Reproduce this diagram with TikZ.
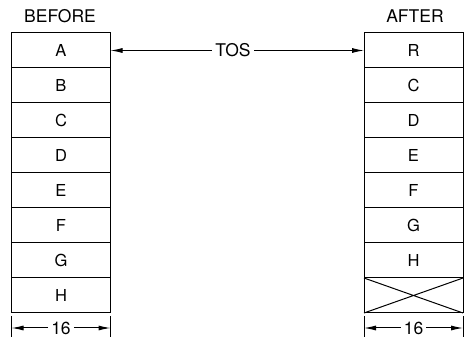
\documentclass[tikz,border=0pt]{standalone}
\usepackage{fontspec}
\setmainfont{TeX Gyre Heros}
\usetikzlibrary{arrows.meta,positioning}

\begin{document}
\begin{tikzpicture}[x=1pt,y=-1pt,
  cellbox/.style={draw,line width=1pt,outer sep=0pt,inner sep=0pt,
    minimum width=99pt,minimum height=35pt,font=\fontsize{16.5}{16.5}\selectfont},
  labeltext/.style={font=\fontsize{17.5}{17.5}\selectfont},
  widthtext/.style={labeltext,inner xsep=3pt,inner ysep=0.5pt},
  dimarrow/.style={line width=1pt,-{Latex[length=12pt,width=5pt]}}]
  \useasboundingbox (0,0) rectangle (467,337);

  % Headings
  \node[labeltext] (before) at (60,16) {BEFORE};
  \node[labeltext] (after) at (415,16) {AFTER};

  % Stacks
  \foreach \txt [count=\i] in {A,B,C,D,E,F,G,H}
    \node[cellbox,anchor=north] (b\i) at (61,{33+35*(\i-1)}) {\txt};
  \foreach \txt [count=\i] in {R,C,D,E,F,G,H,{}}
    \node[cellbox,anchor=north] (a\i) at (413.5,{33+35*(\i-1)}) {\txt};
  \draw[line width=1pt] (a8.north west) -- (a8.south east)
    (a8.south west) -- (a8.north east);

  % Top of stack pointer
  \node[labeltext] (tos) at (b1.center -| 233,0) {TOS};
  \draw[dimarrow] (tos.west) -- (b1.east);
  \draw[dimarrow] (tos.east) -- (a1.west);

  % Width
  \draw[line width=1pt] ([yshift=-3pt]b8.south west) -- ++(0,21)
    ([yshift=-3pt]b8.south east) -- ++(0,21)
    ([yshift=-3pt]a8.south west) -- ++(0,21)
    ([yshift=-3pt]a8.south east) -- ++(0,21);
  \node[widthtext] (bw) at ([yshift=-15pt]b8.south) {16};
  \draw[dimarrow] (bw.west) -- (bw.west -| b8.west);
  \draw[dimarrow] (bw.east) -- (bw.east -| b8.east);
  \node[widthtext] (aw) at ([yshift=-15pt]a8.south) {16};
  \draw[dimarrow] (aw.west) -- (aw.west -| a8.west);
  \draw[dimarrow] (aw.east) -- (aw.east -| a8.east);
\end{tikzpicture}
\end{document}
